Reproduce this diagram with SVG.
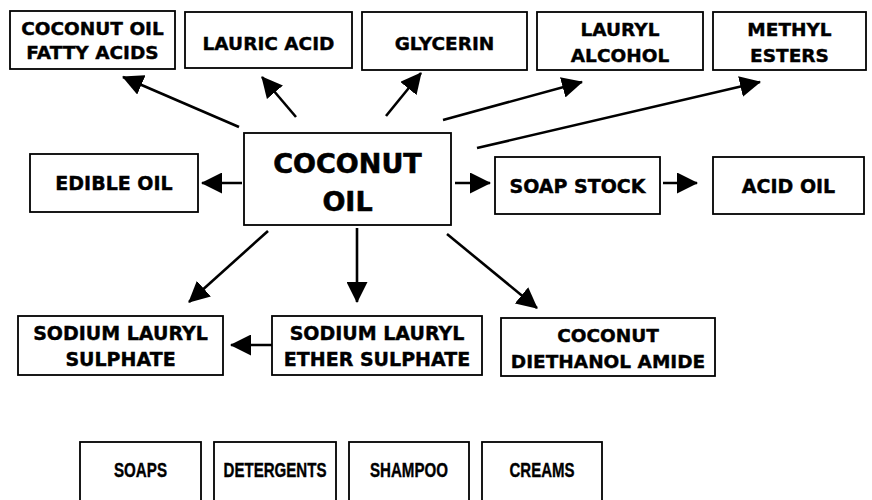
<svg xmlns="http://www.w3.org/2000/svg" width="872" height="500" viewBox="0 0 872 500">
<style>
rect{fill:#fff;stroke:#000;stroke-width:1.8}
text{font-family:"DejaVu Sans","Liberation Sans",sans-serif;font-weight:bold;fill:#000;stroke:#000;stroke-width:0.4;text-anchor:middle}
.t{font-size:18.5px}
.m{font-size:19px}
.b{font-size:27px;stroke-width:0.6}
.n{font-family:"Liberation Sans",Arial,sans-serif;font-size:21px}
#connectors line{stroke:#000;stroke-width:2.6;marker-end:url(#ah)}
</style>
<defs>
<marker id="ah" viewBox="0 0 21 21" markerWidth="21" markerHeight="21" refX="20" refY="10.5" orient="auto" markerUnits="userSpaceOnUse">
<path d="M0,0 L21,10.5 L0,21 Z" fill="#000"/>
</marker>
</defs>
<rect x="0" y="0" width="872" height="500" style="fill:#fff;stroke:none"/>
<g id="connectors">
<line x1="239" y1="127" x2="123" y2="77"/>
<line x1="296" y1="117" x2="262" y2="77"/>
<line x1="386" y1="116" x2="421" y2="73"/>
<line x1="443" y1="120" x2="582" y2="82"/>
<line x1="477" y1="148" x2="760" y2="82"/>
<line x1="242" y1="183" x2="202" y2="183"/>
<line x1="455" y1="183" x2="490" y2="183"/>
<line x1="663" y1="183" x2="697" y2="183"/>
<line x1="268" y1="231" x2="189" y2="302"/>
<line x1="357" y1="228" x2="357" y2="302"/>
<line x1="447" y1="234" x2="537" y2="308"/>
<line x1="272" y1="345" x2="231" y2="345"/>
</g>
<g id="coconut-oil-fatty-acids"><rect x="10" y="11" width="165" height="58"/><text class="t" x="92.5" y="35">COCONUT OIL</text><text class="t" x="92.5" y="59">FATTY ACIDS</text></g>
<g id="lauric-acid"><rect x="185" y="12" width="167" height="56"/><text class="t" x="268.5" y="50">LAURIC ACID</text></g>
<g id="glycerin"><rect x="362" y="12" width="165" height="58"/><text class="t" x="444.5" y="50">GLYCERIN</text></g>
<g id="lauryl-alcohol"><rect x="537" y="12" width="166" height="58"/><text class="t" x="620" y="36">LAURYL</text><text class="t" x="620" y="62">ALCOHOL</text></g>
<g id="methyl-esters"><rect x="713" y="12" width="153" height="58"/><text class="t" x="789.5" y="36">METHYL</text><text class="t" x="789.5" y="62">ESTERS</text></g>
<g id="coconut-oil"><rect x="244" y="133" width="207" height="92"/><text class="b" x="347.5" y="173">COCONUT</text><text class="b" x="347.5" y="211">OIL</text></g>
<g id="edible-oil"><rect x="30" y="154" width="168" height="58"/><text class="m" x="114" y="190">EDIBLE OIL</text></g>
<g id="soap-stock"><rect x="495" y="157" width="165" height="57"/><text class="m" x="577.5" y="193">SOAP STOCK</text></g>
<g id="acid-oil"><rect x="713" y="157" width="151" height="57"/><text class="m" x="788.5" y="193">ACID OIL</text></g>
<g id="sodium-lauryl-sulphate"><rect x="18" y="316" width="205" height="59"/><text class="m" x="120.5" y="340">SODIUM LAURYL</text><text class="m" x="120.5" y="366">SULPHATE</text></g>
<g id="sodium-lauryl-ether-sulphate"><rect x="272" y="316" width="210" height="59"/><text class="m" x="377" y="340">SODIUM LAURYL</text><text class="m" x="377" y="366">ETHER SULPHATE</text></g>
<g id="coconut-diethanol-amide"><rect x="501" y="318" width="214" height="58"/><text class="t" x="608" y="342">COCONUT</text><text class="t" x="608" y="368">DIETHANOL AMIDE</text></g>
<g id="soaps"><rect x="80" y="442" width="121" height="70"/><text class="n" x="140.5" y="477" textLength="53" lengthAdjust="spacingAndGlyphs">SOAPS</text></g>
<g id="detergents"><rect x="214" y="442" width="122" height="70"/><text class="n" x="275" y="477" textLength="103" lengthAdjust="spacingAndGlyphs">DETERGENTS</text></g>
<g id="shampoo"><rect x="349" y="442" width="120" height="70"/><text class="n" x="409" y="477" textLength="78" lengthAdjust="spacingAndGlyphs">SHAMPOO</text></g>
<g id="creams"><rect x="482" y="442" width="120" height="70"/><text class="n" x="542" y="477" textLength="65" lengthAdjust="spacingAndGlyphs">CREAMS</text></g>
</svg>
